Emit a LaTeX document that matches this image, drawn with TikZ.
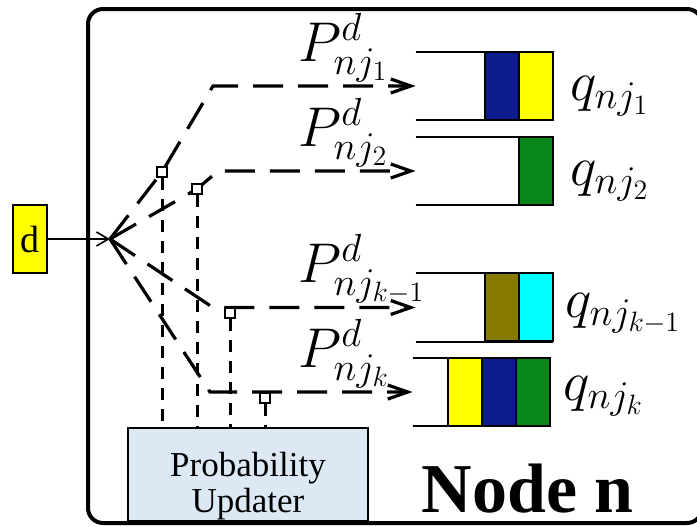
\documentclass[tikz,border=0pt]{standalone}
\usepackage{fix-cm}
\usepackage[no-math]{fontspec}
\setmainfont{Liberation Serif}
\usetikzlibrary{arrows.meta}

\definecolor{qblue}{RGB}{12,28,140}
\definecolor{qyellow}{RGB}{255,255,0}
\definecolor{qgreen}{RGB}{10,135,25}
\definecolor{qolive}{RGB}{135,122,0}
\definecolor{qcyan}{RGB}{0,255,255}
\definecolor{updfill}{RGB}{221,232,245}

\tikzset{
  queue/.style={minimum width=68.5pt,minimum height=34pt,inner sep=0pt},
  qline/.style={line width=1pt},
  cell/.style={draw,line width=1pt},
  feed/.style={line width=0.8pt,-{Straight Barb[length=6pt,width=7pt]}},
  branch/.style={line width=1.6pt,dash pattern=on 15pt off 7.5pt,
    -{Straight Barb[length=10pt,width=7pt]}},
  tap/.style={line width=1.5pt,dash pattern=on 6pt off 4.5pt},
  switchbox/.style={draw,fill=white,line width=1pt,minimum size=5pt,inner sep=0pt},
  plabel/.style={inner sep=0pt,anchor=base west,font=\fontsize{28}{32}\selectfont},
}

\begin{document}
\begin{tikzpicture}[x=0.5pt,y=-0.5pt]
  \useasboundingbox (0,0) rectangle (697,526);
  \draw[line width=2pt,rounded corners=7.5pt]
    (88,9) rectangle (702,523);

  \node[draw,fill=qyellow,line width=0.9pt,minimum width=17pt,minimum height=34pt,
    inner sep=0pt,font=\fontsize{19}{22}\selectfont] (d) at (30,239) {d};
  \coordinate (split) at (110,239);
  \draw[feed] (d) -- (split);

  \node[queue] (q1) at (484.5,86) {};
  \node[queue] (q2) at (484.5,171) {};
  \node[queue] (q3) at (484.5,307.5) {};
  \node[queue] (q4) at (481.5,392) {};

  \draw[cell,fill=qyellow] (q1.north east) rectangle ++(-17pt,-34pt);
  \draw[cell,fill=qblue] ([xshift=-17pt]q1.north east) rectangle ++(-17pt,-34pt);
  \draw[cell,fill=qgreen] (q2.north east) rectangle ++(-17pt,-34pt);
  \draw[cell,fill=qcyan] (q3.north east) rectangle ++(-17pt,-34pt);
  \draw[cell,fill=qolive] ([xshift=-17pt]q3.north east) rectangle ++(-17pt,-34pt);
  \draw[cell,fill=qgreen] (q4.north east) rectangle ++(-17pt,-34pt);
  \draw[cell,fill=qblue] ([xshift=-17pt]q4.north east) rectangle ++(-17pt,-34pt);
  \draw[cell,fill=qyellow] ([xshift=-34pt]q4.north east) rectangle ++(-17pt,-34pt);
  \draw[qline]
    (q1.north west) -- (q1.north east)
    (q1.south west) -- (q1.south east)
    (q2.north west) -- (q2.north east)
    (q2.south west) -- (q2.south east)
    (q3.north west) -- (q3.north east)
    (q3.south west) -- (q3.south east)
    (q4.north west) -- (q4.north east)
    (q4.south west) -- (q4.south east);

  \coordinate (b1) at (213,86);
  \coordinate (b2) at (218,171);
  \coordinate (b3) at (213,307.5);
  \coordinate (b4) at (210,392);
  \draw[branch] (split) -- (162,172) -- (b1) -- (q1.west);
  \draw[branch] (split) -- (197,189) -- (b2) -- (q2.west);
  \draw[branch] (split) -- (b3) -- (q3.west);
  \draw[branch] (split) -- (b4) -- (q4.west);

  \node[switchbox] (sw1) at (162,172) {};
  \node[switchbox] (sw2) at (197,189) {};
  \node[switchbox] (sw3) at (230,313) {};
  \node[switchbox] (sw4) at (265,398) {};

  \node[draw,fill=updfill,line width=1.2pt,minimum width=120pt,minimum height=46.5pt]
    (upd) at (248,474.5) {};
  \node[align=center,inner sep=0pt,font=\fontsize{17.5}{18}\selectfont]
    (updtxt) at ([yshift=-6pt]upd.center) {Probability\\Updater};

  \draw[tap] (sw1) -- (sw1 |- upd.north);
  \draw[tap] (sw2) -- (sw2 |- upd.north);
  \draw[tap] (sw3) -- (sw3 |- upd.north);
  \draw[tap] (sw4) -- (sw4 |- upd.north);

  \node[plabel] (p1) at (298,61) {$P^{d}_{nj_1}$};
  \node[plabel] (p2) at (298,146) {$P^{d}_{nj_2}$};
  \node[plabel] (p3) at (298,282) {$P^{d}_{nj_{k-1}}$};
  \node[plabel] (p4) at (298,367) {$P^{d}_{nj_k}$};

  \node[plabel] (ql1) at (570,100) {$q_{nj_1}$};
  \node[plabel] (ql2) at (570,185) {$q_{nj_2}$};
  \node[plabel] (ql3) at (565,317) {$q_{nj_{k-1}}$};
  \node[plabel] (ql4) at (563,400) {$q_{nj_k}$};

  \node[anchor=base east,inner sep=0pt,font=\bfseries\fontsize{35}{38}\selectfont]
    (nodename) at (634,512) {Node n};
\end{tikzpicture}
\end{document}
